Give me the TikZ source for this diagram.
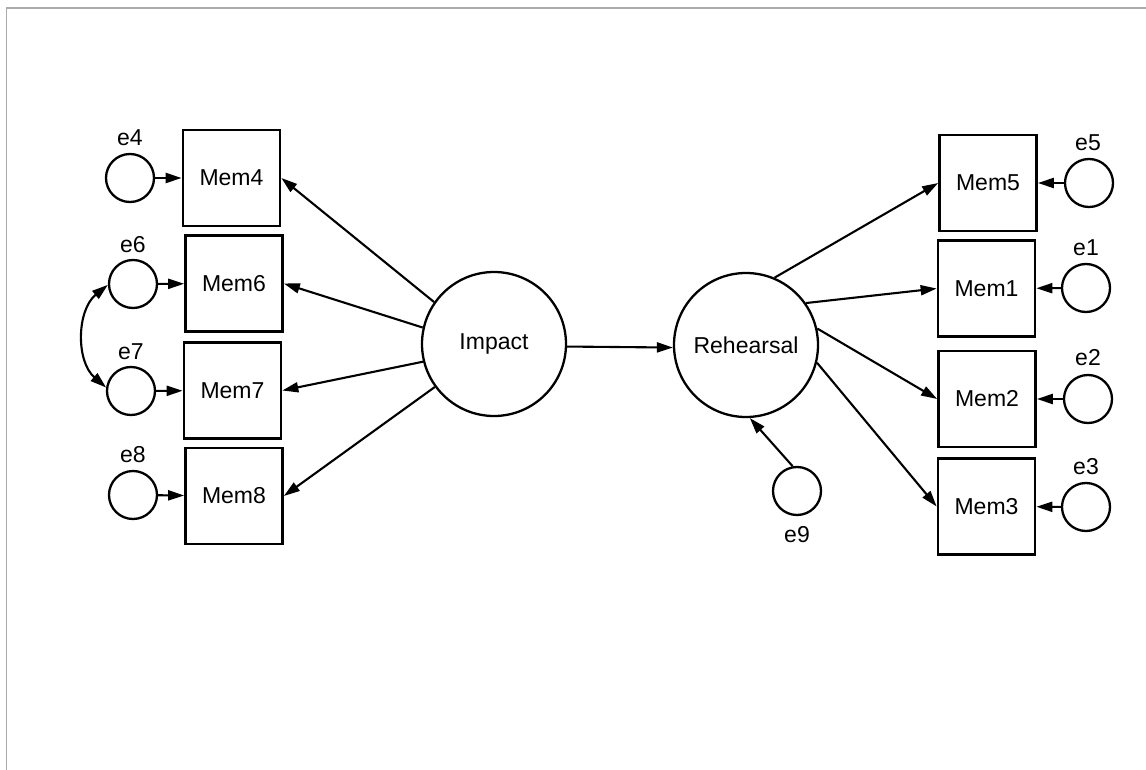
\documentclass[tikz,border=0pt]{standalone}
\usepackage{fontspec}
\setmainfont{Liberation Sans}
\usetikzlibrary{arrows.meta}
\begin{document}
\begin{tikzpicture}[x=1pt,y=1pt,
  txt/.style={font=\fontsize{23}{27}\selectfont},
  obs/.style={draw,line width=2.7pt,minimum width=97pt,minimum height=96pt,inner sep=0pt,txt},
  latent/.style={draw,circle,line width=2.3pt,minimum size=144pt,inner sep=0pt,txt},
  err/.style={draw,circle,line width=2.3pt,minimum size=48pt,inner sep=0pt},
  lbl/.style={inner sep=0pt,txt},
  path/.style={line width=2.1pt,-{Triangle[length=16pt,width=10pt]}},
  cov/.style={line width=2.1pt,{Triangle[length=16pt,width=10pt]}-{Triangle[length=16pt,width=10pt]}},
  frame/.style={draw=black!33,line width=1.5pt}]
\useasboundingbox (0,0) rectangle (1146,-770);
\draw[frame] (6.5,-770) -- (6.5,-8) -- (1146,-8);

% latent variables
\node[latent] (imp) at (494,-344) {Impact};
\node[latent] (reh) at (746,-345) {Rehearsal};

% indicators of Impact
\node[obs] (m4) at (231.5,-178) {Mem4};
\node[obs] (m6) at (234,-283.5) {Mem6};
\node[obs] (m7) at (232.5,-390.5) {Mem7};
\node[obs] (m8) at (234,-496) {Mem8};

% indicators of Rehearsal
\node[obs] (m5) at (988,-183) {Mem5};
\node[obs] (m1) at (986.5,-288.5) {Mem1};
\node[obs] (m2) at (987,-399) {Mem2};
\node[obs] (m3) at (986.5,-506.5) {Mem3};

% error terms
\node[err] (e4) at (130,-178) {};
\node[err] (e6) at (133,-284) {};
\node[err] (e7) at (131,-391) {};
\node[err] (e8) at (133,-495) {};
\node[err] (e5) at (1089,-183) {};
\node[err] (e1) at (1086,-288) {};
\node[err] (e2) at (1088,-399) {};
\node[err] (e3) at (1086,-507) {};
\node[err] (e9) at (797,-491) {};

% error labels
\node[lbl] (le4) at (130,-138) {e4};
\node[lbl] (le6) at (133,-245) {e6};
\node[lbl] (le7) at (131,-352) {e7};
\node[lbl] (le8) at (133,-455) {e8};
\node[lbl] (le5) at (1088,-143) {e5};
\node[lbl] (le1) at (1086,-248) {e1};
\node[lbl] (le2) at (1088,-358) {e2};
\node[lbl] (le3) at (1086,-467) {e3};
\node[lbl] (le9) at (797,-535) {e9};

% structural paths
\draw[path] (imp.-2) -- (reh.182);
\draw[path] (e9.100) -- (reh.-87);

% loadings
\draw[path] (imp.145) -- (m4.east);
\draw[path] (imp.167) -- (m6.east);
\draw[path] (imp.194) -- (m7.east);
\draw[path] (imp.216) -- (m8.east);
\draw[path] (reh.67) -- (m5.west);
\draw[path] (reh.35) -- (m1.west);
\draw[path] (reh.13) -- (m2.west);
\draw[path] (reh.-14) -- (m3.west);

% error paths
\draw[path] (e4) -- (m4);
\draw[path] (e6) -- (m6);
\draw[path] (e7) -- (m7);
\draw[path] (e8) -- (m8);
\draw[path] (e5) -- (m5);
\draw[path] (e1) -- (m1);
\draw[path] (e2) -- (m2);
\draw[path] (e3) -- (m3);

% covariance between e6 and e7
\draw[cov] (e6.182) to[bend right=50] (e7.172);
\end{tikzpicture}
\end{document}
